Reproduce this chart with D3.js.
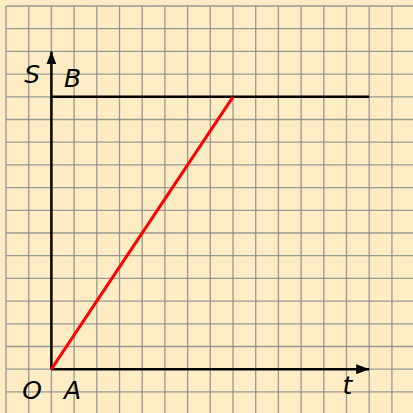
<!DOCTYPE html>
<html>
<head>
<meta charset="utf-8">
<script src="https://cdn.jsdelivr.net/npm/d3@7"></script>
<style>
  html, body { margin: 0; padding: 0; background: #feedc4; }
  svg { display: block; }
</style>
</head>
<body>
<script>
window.document.addEventListener('DOMContentLoaded', init, false);

var width = 413;
var height = 413;

// grid extent in data units (one square = one unit)
var xDomain = [-2, 16];
var yDomain = [-2, 16];

// axes lengths
var tAxisMax = [14];
var sAxisMax = [14];

// horizontal level through B
var levelB = [12];

// red segment points (t, S)
var redT = [0, 8];
var redS = [0, 12];

// label texts
var labelText = ['S', 'B', 'O', 'A', 't'];
var labelT = [-0.85, 0.93, -0.85, 0.93, 13.04];
var labelS = [12.6, 12.45, -1.33, -1.31, -1.1];

var x = d3.scaleLinear().domain(xDomain).range([6, 6 + 18 * 22.7]);
var y = d3.scaleLinear().domain(yDomain).range([6 + 18 * 22.7, 6]);

var svg;

function init() {
    svg = d3.select('body')
        .append('svg')
        .attr('width', width)
        .attr('height', height);

    svg.append('rect')
        .attr('width', width)
        .attr('height', height)
        .attr('fill', '#feedc4');

    drawGrid();
    drawAxes();
    drawLines();
    drawLabels();
}

function drawGrid() {
    var g = svg.append('g')
        .attr('stroke', '#8a8a88')
        .attr('stroke-width', 1.3)
        .attr('stroke-opacity', 0.85);

    g.selectAll('.vx')
        .data(d3.range(xDomain[0], xDomain[1] + 1))
        .enter()
            .append('line')
            .attr('x1', function(d) { return x(d); })
            .attr('x2', function(d) { return x(d); })
            .attr('y1', y(yDomain[1]))
            .attr('y2', height);

    g.selectAll('.hy')
        .data(d3.range(yDomain[0], yDomain[1] + 1))
        .enter()
            .append('line')
            .attr('y1', function(d) { return y(d); })
            .attr('y2', function(d) { return y(d); })
            .attr('x1', x(xDomain[0]))
            .attr('x2', width);
}

function drawAxes() {
    var defs = svg.append('defs');
    defs.append('marker')
        .attr('id', 'arrow')
        .attr('viewBox', '0 0 13 10')
        .attr('refX', 13)
        .attr('refY', 5)
        .attr('markerWidth', 13)
        .attr('markerHeight', 10)
        .attr('markerUnits', 'userSpaceOnUse')
        .attr('orient', 'auto')
        .append('path')
        .attr('d', 'M0,0 L13,5 L0,10 Z')
        .attr('fill', '#000');

    svg.append('line')
        .attr('x1', x(0)).attr('y1', y(0))
        .attr('x2', x(tAxisMax[0])).attr('y2', y(0))
        .attr('stroke', '#000')
        .attr('stroke-width', 2.5)
        .attr('marker-end', 'url(#arrow)');

    svg.append('line')
        .attr('x1', x(0)).attr('y1', y(0))
        .attr('x2', x(0)).attr('y2', y(sAxisMax[0]))
        .attr('stroke', '#000')
        .attr('stroke-width', 2.5)
        .attr('marker-end', 'url(#arrow)');
}

function drawLines() {
    svg.selectAll('.level')
        .data(levelB)
        .enter()
            .append('line')
            .attr('x1', x(0))
            .attr('x2', x(tAxisMax[0]))
            .attr('y1', function(d) { return y(d); })
            .attr('y2', function(d) { return y(d); })
            .attr('stroke', '#000')
            .attr('stroke-width', 2.5);

    var pts = redT.map(function(t, i) { return [t, redS[i]]; });
    svg.append('path')
        .datum(pts)
        .attr('d', d3.line()
            .x(function(d) { return x(d[0]); })
            .y(function(d) { return y(d[1]); }))
        .attr('fill', 'none')
        .attr('stroke', '#ff0000')
        .attr('stroke-width', 3);
}

function drawLabels() {
    svg.selectAll('.lab')
        .data(labelText)
        .enter()
            .append('text')
            .attr('x', function(d, i) { return x(labelT[i]); })
            .attr('y', function(d, i) { return y(labelS[i]); })
            .attr('text-anchor', 'middle')
            .attr('font-family', 'DejaVu Sans')
            .attr('font-style', 'oblique')
            .attr('font-size', 25)
            .attr('fill', '#000')
            .text(function(d) { return d; });
}
</script>
</body>
</html>
